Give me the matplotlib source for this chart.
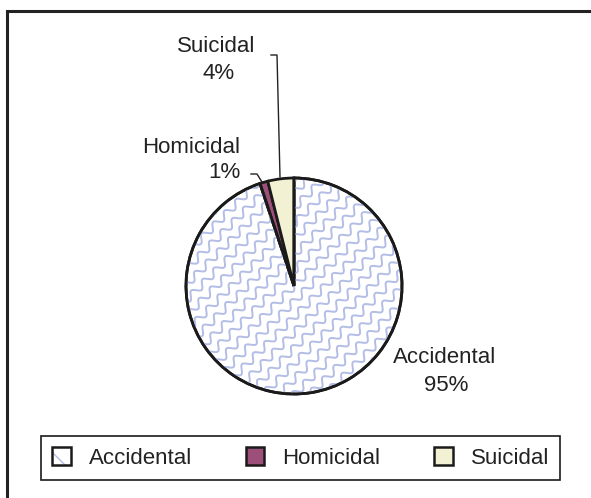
import numpy as np
import matplotlib
matplotlib.use("Agg")
import matplotlib.pyplot as plt
import matplotlib.patches as patches
from matplotlib.legend_handler import HandlerTuple

plt.rcParams['font.family'] = ['Liberation Sans', 'DejaVu Sans']
plt.rcParams['hatch.linewidth'] = 1.0

labels = ['Accidental', 'Homicidal', 'Suicidal']
values = [94.9, 1.2, 3.9]
pct_text = ['95%', '1%', '4%']
colors = ['white', '#9c4f78', '#f3f1d3']
hatch_blue = '#b3bde6'
ink = '#1a1a1a'

W, H = 591, 498
fig = plt.figure(figsize=(W / 100, H / 100), dpi=100)
ax = fig.add_axes([0, 0, 1, 1])

# outer chart frame (cut at right/bottom like the original)
ax.add_patch(patches.Rectangle((7, -20), W + 20, H - 11 + 20, fill=False,
                               edgecolor='#222222', linewidth=2.2))

cx, cy, r = 294, H - 286, 108
wedges, _ = ax.pie(values, colors=colors, startangle=90, counterclock=False,
                   center=(cx, cy), radius=r,
                   wedgeprops=dict(edgecolor=ink, linewidth=2))
ax.set_xlim(0, W)
ax.set_ylim(0, H)
ax.set_aspect('auto')
ax.axis('off')

# wavy texture for the big slice, clipped to the wedge
acc = wedges[0]
u = np.array([1, 1]) / np.sqrt(2)
v = np.array([-1, 1]) / np.sqrt(2)
t = np.linspace(-2 * r, 2 * r, 800)
for k in np.arange(-25, 26):
    off = k * 11.0 + 3.5 * np.sin(2 * np.pi * t / 16.0)
    xs = cx + t * u[0] + off * v[0]
    ys = cy + t * u[1] + off * v[1]
    ln, = ax.plot(xs, ys, color=hatch_blue, linewidth=1.4, zorder=acc.get_zorder() + 0.1)
    ln.set_clip_path(acc)
outline = patches.Wedge((cx, cy), r, acc.theta1, acc.theta2, fill=False,
                        edgecolor=ink, linewidth=2, zorder=acc.get_zorder() + 0.2)
ax.add_patch(outline)

fs = 16
tc = '#222222'
ax.text(216, H - 46, labels[2], fontsize=fs, ha='center', va='center', color=tc)
ax.text(219, H - 73, pct_text[2], fontsize=fs, ha='center', va='center', color=tc)
ax.text(240, H - 147, labels[1], fontsize=fs, ha='right', va='center', color=tc)
ax.text(240, H - 172, pct_text[1], fontsize=fs, ha='right', va='center', color=tc)
ax.text(445, H - 357, labels[0], fontsize=fs, ha='center', va='center', color=tc)
ax.text(446, H - 385, pct_text[0], fontsize=fs, ha='center', va='center', color=tc)

# leader lines
ax.plot([271, 277, 280], [H - 55, H - 55, H - 177], color=tc, linewidth=1)
ax.plot([251, 257, 262], [H - 174, H - 174, H - 182], color=tc, linewidth=1)

# legend
h_acc = (patches.Patch(facecolor='white', edgecolor=hatch_blue, hatch='\\', linewidth=0),
         patches.Patch(fill=False, edgecolor=ink, linewidth=1.8))
h_hom = patches.Patch(facecolor=colors[1], edgecolor=ink, linewidth=1.8)
h_sui = patches.Patch(facecolor=colors[2], edgecolor=ink, linewidth=1.8)
leg = fig.legend([h_acc, h_hom, h_sui], labels, ncol=3, loc='lower left',
                 bbox_to_anchor=(41 / W, 18 / H, 519 / W, 47 / H), mode='expand',
                 borderaxespad=0, borderpad=0.5, fontsize=fs, handlelength=0.85,
                 handleheight=0.85, handletextpad=0.8, columnspacing=1.0,
                 fancybox=False, framealpha=1,
                 handler_map={tuple: HandlerTuple(ndivide=1, pad=0)})
leg.get_frame().set_edgecolor(ink)
leg.get_frame().set_linewidth(1.2)
for tx in leg.get_texts():
    tx.set_color(tc)

fig.savefig('out.png', dpi=100)
